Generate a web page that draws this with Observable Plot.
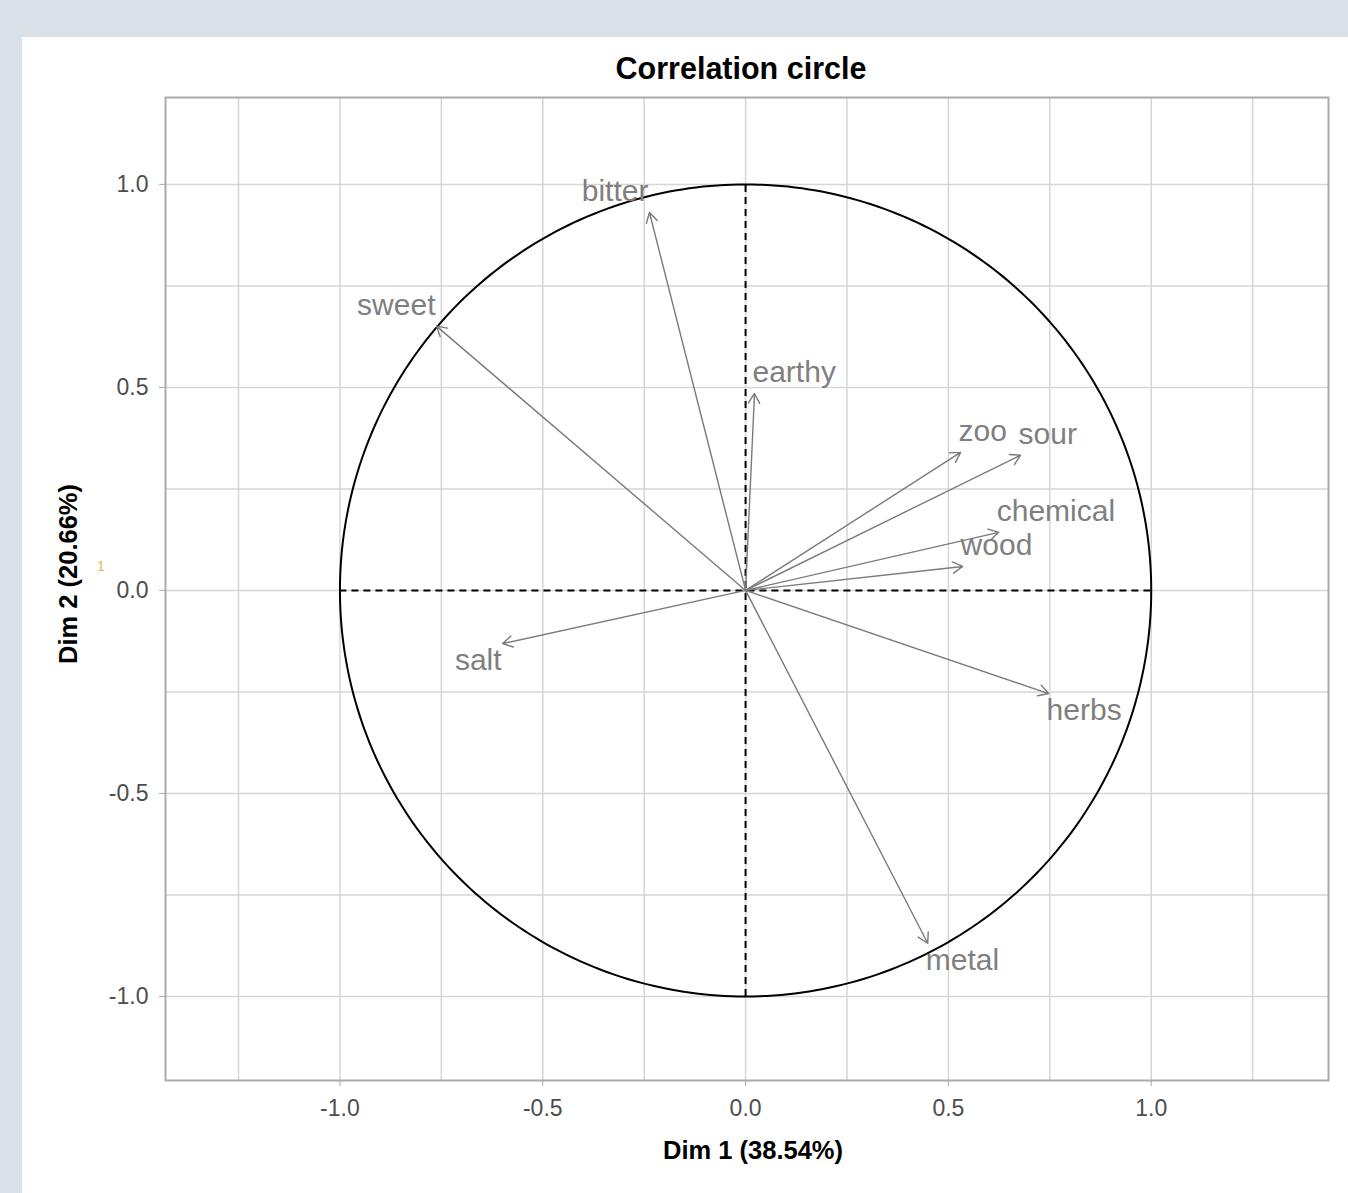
<!DOCTYPE html>
<html><head><meta charset="utf-8">
<script src="https://cdn.jsdelivr.net/npm/d3@7"></script>
<script src="https://cdn.jsdelivr.net/npm/@observablehq/plot@0.6"></script>
<style>
html,body{margin:0;padding:0;background:#d9e0e6;width:1348px;height:1193px;overflow:hidden;font-family:"Liberation Sans",Arial,sans-serif;}
#panel{position:absolute;left:22px;top:37px;width:1326px;height:1156px;background:#fff;}
#title{position:absolute;left:139px;top:6px;width:1160px;height:50px;line-height:50px;text-align:center;font-size:30.5px;font-weight:bold;color:#000;}
#chart{position:absolute;left:0;top:56px;}
#stray{position:absolute;left:97px;top:558px;font-size:14px;color:#e9b35a;}
</style></head>
<body>
<div id="panel"><div id="title">Correlation circle</div><div id="chart"></div></div>
<div id="stray">1</div>
<script>
// Data
const variables = ["bitter", "sweet", "earthy", "zoo", "sour", "chemical", "wood", "herbs", "metal", "salt"];
const dim1 = [-0.237, -0.762, 0.022, 0.530, 0.678, 0.624, 0.535, 0.747, 0.449, -0.599];
const dim2 = [0.931, 0.651, 0.485, 0.340, 0.333, 0.143, 0.059, -0.254, -0.869, -0.131];
const axisTicks = [-1.0, -0.5, 0.0, 0.5, 1.0];
const gridXTicks = [-1.25, -1.0, -0.75, -0.5, -0.25, 0, 0.25, 0.5, 0.75, 1.0, 1.25];
const gridYTicks = [-1.0, -0.75, -0.5, -0.25, 0, 0.25, 0.5, 0.75, 1.0];
const xLabel = "Dim 1 (38.54%)";
const yLabel = "Dim 2 (20.66%)";

const vars = variables.map((name, i) => ({name, x: dim1[i], y: dim2[i]}));
const circle = d3.range(0, 361).map(a => ({x: Math.cos(a * Math.PI / 180), y: Math.sin(a * Math.PI / 180)}));

const labelStyle = {x: "x", y: "y", text: "name", fontSize: 30, fill: "#7f7f7f", lineAnchor: "middle"};
const fmt = d => d.toFixed(1);

const chart = Plot.plot({
  width: 1326,
  height: 1100,
  marginLeft: 143,
  marginRight: 20,
  marginTop: 4,
  marginBottom: 113,
  x: {domain: [-1.43, 1.437]},
  y: {domain: [-1.207, 1.214]},
  style: {fontFamily: "Liberation Sans, Arial, sans-serif", background: "white"},
  marks: [
    Plot.gridX(gridXTicks, {stroke: "#d6d6d6", strokeOpacity: 1, strokeWidth: 1.5}),
    Plot.gridY(gridYTicks, {stroke: "#d6d6d6", strokeOpacity: 1, strokeWidth: 1.5}),
    Plot.frame({stroke: "#aaaaaa", strokeWidth: 2}),
    Plot.line(circle, {x: "x", y: "y", stroke: "#000", strokeWidth: 2}),
    Plot.ruleX([0], {y1: -1, y2: 1, stroke: "#000", strokeWidth: 2, strokeDasharray: "7,5"}),
    Plot.ruleY([0], {x1: -1, x2: 1, stroke: "#000", strokeWidth: 2, strokeDasharray: "7,5"}),
    Plot.arrow(vars, {x1: () => 0, y1: () => 0, x2: "x", y2: "y", stroke: "#7a7a7a", strokeWidth: 1.4, headLength: 12}),
    Plot.text(vars, {...labelStyle, filter: d => d.x < 0 && d.y >= 0, textAnchor: "end", dx: -1, dy: -21}),
    Plot.text(vars, {...labelStyle, filter: d => d.x >= 0 && d.y >= 0, textAnchor: "start", dx: -2, dy: -21}),
    Plot.text(vars, {...labelStyle, filter: d => d.x < 0 && d.y < 0, textAnchor: "end", dx: -1, dy: 17}),
    Plot.text(vars, {...labelStyle, filter: d => d.x >= 0 && d.y < 0, textAnchor: "start", dx: -2, dy: 17}),
    Plot.axisX(axisTicks, {tickFormat: fmt, tickSize: 6, tickPadding: 13, fontSize: 23, stroke: "#aaaaaa", fill: "#4d4d4d", label: null}),
    Plot.axisY(axisTicks, {tickFormat: fmt, tickSize: 6, tickPadding: 11, fontSize: 23, stroke: "#aaaaaa", fill: "#4d4d4d", label: null}),
    Plot.text([xLabel], {text: d => d, frameAnchor: "bottom", textAnchor: "middle", dy: 70, dx: 6, fontSize: 25.5, fontWeight: "bold", fill: "#000", lineAnchor: "middle"}),
    Plot.text([yLabel], {text: d => d, frameAnchor: "left", textAnchor: "middle", dx: -97, dy: -15, rotate: -90, fontSize: 25.5, fontWeight: "bold", fill: "#000", lineAnchor: "middle"})
  ]
});
document.getElementById("chart").appendChild(chart);
</script>
</body></html>
